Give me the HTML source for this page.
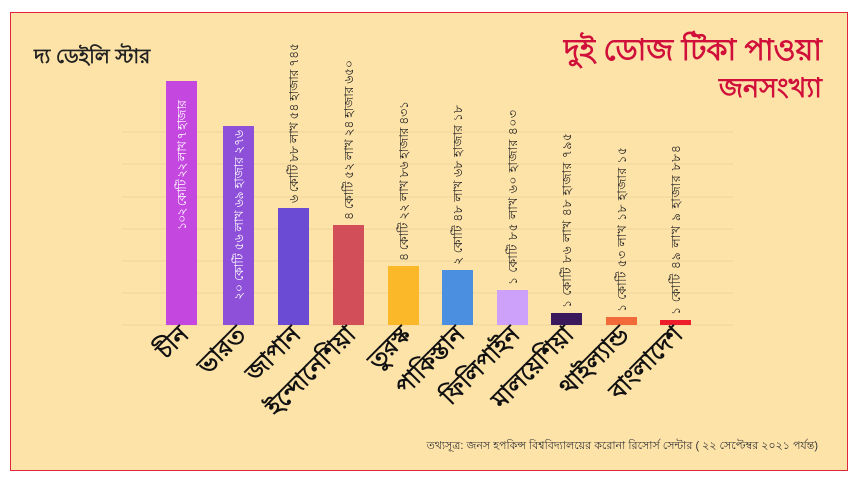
<!DOCTYPE html>
<html><head><meta charset="utf-8"><style>
body{margin:0;width:857px;height:482px;background:#fff;position:relative;overflow:hidden;font-family:"Liberation Sans",sans-serif}
.frame{position:absolute;left:10px;top:12px;width:836px;height:457px;border:1px solid #e0263a;background:#fee3a9}
</style></head><body>
<div class="frame"></div>
<svg width="857" height="482" style="position:absolute;left:0;top:0" font-family="Liberation Sans, sans-serif">
<g stroke="#f0d59a" stroke-width="1">
<line x1="122" y1="132" x2="733" y2="132"/><line x1="122" y1="164" x2="733" y2="164"/>
<line x1="122" y1="197" x2="733" y2="197"/><line x1="122" y1="229" x2="733" y2="229"/>
<line x1="122" y1="261" x2="733" y2="261"/><line x1="122" y1="293" x2="733" y2="293"/>
<line x1="122" y1="325" x2="733" y2="325"/></g>
<rect x="166" y="81" width="31" height="244" fill="#c448e0"/>
<rect x="223" y="126" width="31" height="199" fill="#8e4fd9"/>
<rect x="278" y="208" width="31" height="117" fill="#6b4bd3"/>
<rect x="333" y="225" width="31" height="100" fill="#d24f5a"/>
<rect x="388" y="266" width="31" height="59" fill="#fbb829"/>
<rect x="442" y="270" width="31" height="55" fill="#4a8fe0"/>
<rect x="497" y="290" width="31" height="35" fill="#cda1f9"/>
<rect x="551" y="313" width="31" height="12" fill="#3a1a5c"/>
<rect x="606" y="317" width="31" height="8" fill="#f26a3a"/>
<rect x="660" y="320" width="31" height="5" fill="#ee1d2c"/>
<g font-size="12.5" fill="#222" textLength="1">
<text transform="translate(186,230) rotate(-90)" fill="#fff" textLength="130">১০২ কোটি ২২ লাখ ৭ হাজার</text>
<text transform="translate(243,300) rotate(-90)" fill="#fff" textLength="170">২০ কোটি ৫৬ লাখ ৬৯ হাজার ২৭৬</text>
<text transform="translate(298,203) rotate(-90)" textLength="160">৬ কোটি ৮৮ লাখ ৫৪ হাজার ৭৪৫</text>
<text transform="translate(353,220) rotate(-90)" textLength="160">৪ কোটি ৫২ লাখ ২৪ হাজার ৬৫০</text>
<text transform="translate(408,261) rotate(-90)" textLength="160">৪ কোটি ২২ লাখ ৮৬ হাজার ৪৩১</text>
<text transform="translate(462,265) rotate(-90)" textLength="160">২ কোটি ৪৮ লাখ ৬৮ হাজার ১৮</text>
<text transform="translate(517,285) rotate(-90)" textLength="175">১ কোটি ৮৫ লাখ ৬০ হাজার ৪০৩</text>
<text transform="translate(571,308) rotate(-90)" textLength="175">১ কোটি ৮৬ লাখ ৪৮ হাজার ৭৯৫</text>
<text transform="translate(626,312) rotate(-90)" textLength="165">১ কোটি ৫৩ লাখ ১৮ হাজার ১৫</text>
<text transform="translate(680,315) rotate(-90)" textLength="170">১ কোটি ৪৯ লাখ ৯ হাজার ৮৮৪</text>
</g>
<g font-size="24" font-weight="bold" fill="#111" text-anchor="end">
<text transform="translate(190,336) rotate(-45)">চীন</text>
<text transform="translate(247,336) rotate(-45)">ভারত</text>
<text transform="translate(302,336) rotate(-45)">জাপান</text>
<text transform="translate(357,336) rotate(-45)">ইন্দোনেশিয়া</text>
<text transform="translate(412,336) rotate(-45)">তুরস্ক</text>
<text transform="translate(466,336) rotate(-45)">পাকিস্তান</text>
<text transform="translate(521,336) rotate(-45)">ফিলিপাইন</text>
<text transform="translate(575,336) rotate(-45)">মালয়েশিয়া</text>
<text transform="translate(630,336) rotate(-45)">থাইল্যান্ড</text>
<text transform="translate(684,336) rotate(-45)">বাংলাদেশ</text>
</g>
<text x="34" y="63" font-size="20" font-weight="bold" fill="#222">দ্য ডেইলি স্টার</text>
<text x="822" y="60" font-size="30" font-weight="bold" fill="#d0103a" text-anchor="end">দুই ডোজ টিকা পাওয়া</text>
<text x="822" y="97" font-size="27" font-weight="bold" fill="#d0103a" text-anchor="end">জনসংখ্যা</text>
<text x="818" y="449" font-size="11" fill="#333" text-anchor="end">তথ্যসূত্র:  জনস হপকিন্স বিশ্ববিদ্যালয়ের করোনা রিসোর্স সেন্টার ( ২২ সেপ্টেম্বর ২০২১ পর্যন্ত)</text>
</svg>
</body></html>
